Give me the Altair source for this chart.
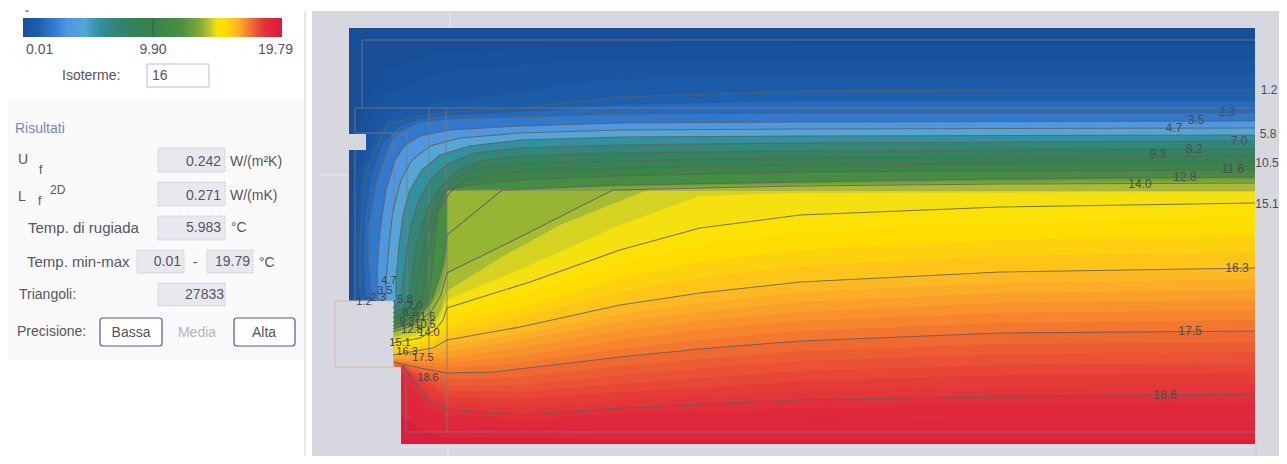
import altair as alt
import pandas as pd

# colour ramp: temperature (deg C) and colour
RAMP_T = [0.01, 1.2, 2.3, 3.4, 4.7, 5.8, 7.0, 8.4, 10.0, 12.2, 13.5, 14.2, 14.8, 15.3, 16.3, 17.0, 17.5, 18.1, 18.6, 19.79]
RAMP_C = ["#184e96", "#1e5fae", "#3278cd", "#5096e1", "#55a5d7", "#3291a0", "#328778", "#32825a", "#37824b",
          "#4b9141", "#82aa37", "#b4c332", "#f5e10f", "#ffe100", "#fdb923", "#f88c2d", "#f06932", "#e84637", "#e22d3a", "#d61c3c"]

# isotherms labelled on the chart: level -> contour points
ISO = {
 1.2: [(1255,90),(1000,90),(800,91),(620,97),(520,108),(450,112),(420,116),(403,120),(387,125),(377,147),(365,173),(362,210),(360,243),(360,283),(362,300)],
 2.3: [(1255,113),(800,113),(620,114),(520,117),(450,119),(420,122),(400,132),(390,142),(377,180),(368,227),(368,260),(370,283),(372,300)],
 3.5: [(1255,121),(800,122),(620,123),(520,126),(450,130),(420,136),(405,145),(395,160),(386,190),(380,230),(377,270),(378,300)],
 4.7: [(1255,128),(800,129),(620,130),(520,133),(460,138),(430,146),(412,160),(401,180),(393,210),(389,245),(386,280),(386,300)],
 5.8: [(1255,135),(800,136),(620,137),(520,140),(470,146),(440,155),(422,170),(410,190),(403,215),(399,245),(396,280),(396,300),(393,302)],
 7.0: [(1255,141),(800,143),(620,145),(520,148),(475,153),(448,164),(430,180),(419,200),(411,225),(407,250),(403,280),(401,300),(393,308)],
 8.2: [(1255,149),(800,151),(620,153),(520,156),(480,161),(455,172),(438,190),(427,210),(419,235),(414,260),(411,285),(409,300),(400,310),(393,313)],
 9.3: [(1255,156),(800,158),(620,161),(520,164),(480,168),(460,176),(445,190),(433,212),(425,240),(420,265),(417,285),(415,300),(405,312),(393,318)],
 10.5: [(1255,163),(800,165),(620,168),(520,172),(485,175),(465,181),(450,192),(438,212),(431,240),(426,265),(424,285),(422,300),(410,314),(393,322)],
 11.6: [(1255,170),(800,172),(620,176),(520,180),(470,185),(447,190),(438,210),(435,240),(432,270),(428,300),(413,318),(393,326)],
 12.8: [(1255,177),(1000,179),(800,182),(620,185),(502,190),(447,235),(443,265),(432,300),(415,322),(393,329)],
 14.0: [(1255,183),(1000,184),(800,186),(613,190),(510,242),(447,273),(445,280),(441,295),(431,312),(415,325),(393,332)],
 15.1: [(1255,203),(1000,207),(800,215),(700,228),(620,250),(530,282),(447,308),(443,320),(435,330),(420,338),(393,343)],
 16.3: [(1255,268),(1000,272),(800,282),(700,293),(620,305),(520,327),(447,340),(433,348),(393,355)],
 17.5: [(1255,331),(1000,333),(800,341),(700,349),(620,357),(493,372),(447,373),(420,368),(393,362)],
 18.6: [(1255,394),(1000,396),(800,400),(700,404),(620,408),(530,414),(500,413),(447,409),(432,402),(420,390),(403,365)],
}
# further colour contours read between the labelled isotherms
SHADE = {
 0.3: [(1255,45),(800,45),(560,47),(440,52),(385,70),(362,110),(353,170),(351,230),(351,300)],
 0.6: [(1255,60),(800,60),(560,62),(440,72),(385,95),(368,125),(358,170),(354,230),(354,300)],
 0.9: [(1255,75),(800,75),(600,80),(500,95),(440,102),(395,112),(375,135),(362,170),(357,230),(357,300)],
 1.7: [(1255,101),(800,101),(620,105),(520,112),(450,115),(420,119),(400,126),(382,145),(371,177),(365,220),(364,260),(366,300)],
 13.0: [(1255,178),(800,182),(620,186),(520,189),(447,190),(447,235),(443,265),(432,300),(415,322),(393,329)],
 13.4: [(1255,180),(800,184),(620,187),(520,189.5),(447,190.5),(447,254),(441,280),(428,305),(412,324),(393,331)],
 13.8: [(1255,182),(1000,183.5),(800,185.5),(640,189.5),(447,191),(447,262),(441,288),(430,308),(414,325),(393,331.5)],
 14.5: [(1255,189),(800,189),(650,189),(560,225),(500,258),(447,291),(441,310),(432,325),(415,332),(393,337)],
 14.8: [(1255,192),(800,193),(700,196),(620,225),(530,265),(447,300),(441,316),(432,328),(415,336),(393,340)],
 15.4: [(1255,218),(1000,222),(800,232),(700,245),(620,264),(530,293),(447,316),(440,326),(430,335),(393,346)],
 15.7: [(1255,235),(1000,240),(800,250),(700,262),(620,278),(530,305),(447,325),(432,340),(393,350)],
 16.0: [(1255,252),(1000,256),(800,266),(700,278),(620,292),(525,316),(447,333),(432,344),(393,352)],
 16.5: [(1255,279),(1000,283),(800,292),(700,303),(620,314),(520,334),(447,346),(425,352),(393,357)],
 16.7: [(1255,290),(1000,293),(800,302),(700,312),(620,322),(520,340),(447,352),(420,355),(393,358)],
 16.9: [(1255,300),(1000,303),(800,312),(700,321),(620,331),(520,348),(447,358),(420,359),(393,359)],
 17.1: [(1255,310),(1000,313),(800,321),(700,330),(620,340),(520,356),(447,363),(420,362),(393,360)],
 17.3: [(1255,320),(1000,323),(800,331),(700,340),(620,349),(510,364),(447,368),(420,365),(393,361)],
 17.7: [(1255,342),(1000,344),(800,351),(700,359),(620,366),(510,378),(447,379),(422,372),(395,363)],
 17.9: [(1255,352),(1000,354),(800,361),(700,368),(620,375),(520,385),(447,385),(425,376),(401,366)],
 18.1: [(1255,363),(1000,365),(800,371),(700,378),(620,384),(520,392),(447,391),(425,380),(402,366)],
 18.3: [(1255,373),(1000,375),(800,381),(700,388),(620,392),(520,399),(447,397),(425,383),(402,366)],
 18.45: [(1255,384),(1000,386),(800,391),(700,396),(620,400),(525,407),(447,403),(428,393),(403,366)],
 18.85: [(1255,403),(1000,405),(800,408),(620,414),(530,419),(447,415),(428,406),(412,388),(402,372)],
 19.1: [(1255,420),(1000,420),(800,422),(620,424),(520,427),(447,425),(425,412),(401,385)],
 19.6: [(1255,440),(1000,440),(620,440),(447,438),(420,430),(401,415)],
}
OUTLINE = [(349,300),(349,28),(1255,28),(1255,444),(401,444),(401,367),(393,367)]
CLOSURE = [(393,367),(401,367),(401,444),(1255,444)]

def closed(pts):
    ex, ey = pts[-1]
    if ex < 395:
        return pts + CLOSURE
    return pts + (CLOSURE[1:] if ey <= 367 else CLOSURE[2:])

# wall and material boundaries
WALLS = [(362,40,1255,40),(362,40,362,108),(355,108,1255,108),(355,108,355,133),(355,133,407,133),
         (407,133,407,300),(429,108,429,355),(446,108,446,190),(394,133,394,210),(355,150,355,300),
         (447,190,1255,190),(447,190,447,432),(406,365,406,432),(406,432,1255,432)]

ISO_LABELS = [("1.2",1269,90),("2.3",1227,112),("3.5",1196,120),("4.7",1174,128),("5.8",1268,134),("7.0",1239,141),
              ("8.2",1194,149),("9.3",1158,154),("10.5",1267,163),("11.6",1233,169),("12.8",1185,177),("14.0",1140,184),
              ("15.1",1267,204),("16.3",1237,268),("17.5",1190,331),("18.6",1165,395)]
CLUSTER_LABELS = [("1.2",364,302),("2.3",378,298),("3.5",385,291),("4.7",389,281),("5.8",405,300),("7.0",415,306),
              ("8.2",410,313),("9.3",407,322),("10.5",425,325),("11.6",425,317),("12.8",412,330),("14.0",429,333),
              ("15.1",400,343),("16.3",407,352),("17.5",423,358),("18.6",428,378)]

LEFT_TEXT = [("0.01",26,50),("Isoterme:",62,76),("U",18,160),("L",18,197),("W/(m²K)",230,162),("W/(mK)",230,196),
             ("Triangoli:",19,295),("Precisione:",17,332),("°C",231,228),("°C",259,263),("16",152,76)]
WIDE_TEXT = [("Temp. di rugiada",28,228),("Temp. min-max",27,262)]
MID_TEXT = [("9.90",153,50),("Bassa",131,333),("Alta",264,333),("-",195,263)]
RIGHT_TEXT = [("19.79",293,50),("0.242",221,162),("0.271",221,196),("5.983",221,228),("0.01",181,262),("19.79",250,262),("27833",224,295)]
SMALL_TEXT = [("f",39,170),("f",38,201),("2D",50,190)]
VALUE_BOXES = [(158,148,225,172),(158,182,225,206),(158,216,225,240),(137,250,184,273),(207,250,253,273),(158,283,225,306)]
BUTTONS = [(100,318,162,346),(234,318,295,346)]

X = alt.X("x:Q", scale=alt.Scale(domain=[8,1279], nice=False, zero=False), axis=None)
Y = alt.Y("y:Q", scale=alt.Scale(domain=[456,8], nice=False, zero=False), axis=None)
X2, Y2 = alt.X2("x2:Q"), alt.Y2("y2:Q")

def rects(rows, **mark):
    df = pd.DataFrame(rows, columns=["x","y","x2","y2"])
    return alt.Chart(df).mark_rect(**mark).encode(x=X, y=Y, x2=X2, y2=Y2)

def rules(rows, **mark):
    df = pd.DataFrame(rows, columns=["x","y","x2","y2"])
    return alt.Chart(df).mark_rule(**mark).encode(x=X, y=Y, x2=X2, y2=Y2)

def texts(rows, size=14, color="#555560", align="left", **mark):
    df = pd.DataFrame(rows, columns=["t","x","y"])
    return alt.Chart(df).mark_text(font="Liberation Sans", fontSize=size, color=color, align=align, baseline="middle", **mark).encode(x=X, y=Y, text="t:N")

# nested filled contours, coldest first
rows = [dict(t=0.01, i=i, x=x, y=y) for i,(x,y) in enumerate(OUTLINE)]
for t, pts in sorted({**ISO, **SHADE}.items()):
    rows += [dict(t=t, i=i, x=x, y=y) for i,(x,y) in enumerate(closed(pts))]
field = alt.Chart(pd.DataFrame(rows)).mark_line(filled=True, strokeWidth=0, interpolate="linear-closed").encode(
    x=X, y=Y, order="i:Q", detail="t:N",
    fill=alt.Fill("t:Q", scale=alt.Scale(domain=RAMP_T, range=RAMP_C, interpolate="rgb"), legend=None))

iso_rows = []
for t, pts in ISO.items():
    iso_rows += [dict(t=t, i=i, x=x, y=y) for i,(x,y) in enumerate(pts)]
iso_lines = alt.Chart(pd.DataFrame(iso_rows)).mark_line(color="#5f6060", strokeWidth=1.1, opacity=0.85).encode(
    x=X, y=Y, order="i:Q", detail="t:N")

bar = rects([(23,18,282,37)], color=alt.Gradient(gradient="linear", x1=0, x2=1, y1=0, y2=0,
    stops=[alt.GradientStop(offset=t/19.79, color=c) for t,c in zip(RAMP_T, RAMP_C)]))

chart = alt.layer(
    rects([(8,100,305,360)], color="#fafafb"),
    rects([(312,11,1279,456)], color="#d6d7df"),
    rules([(450,11,450,28),(448,444,448,456),(320,175,349,175),(401,447,1255,447)], color="#e6e7ec", strokeWidth=1.2),
    rules([(305,11,305,456)], color="#e2e2e6", strokeWidth=1.5),
    rules([(1256,444,1256,456)], color="#d8c4bc", strokeWidth=1),
    field,
    rules(WALLS, color="#7c7a80", strokeWidth=1, opacity=0.8),
    rects([(349,134,366,150)], color="#d6d7df"),
    rects([(335,301,393.5,367)], color="#d6d7df", stroke="#d9b8a8", strokeWidth=1),
    iso_lines,
    texts(ISO_LABELS, size=12, color="#4a4f50", align="center"),
    texts(CLUSTER_LABELS, size=11, color="#3f4446", align="center"),
    bar,
    rules([(153,18,153,37)], color="#3c5a48", strokeWidth=1),
    rects([(147,64,209,87)], color="#ffffff", stroke="#b4bce0", strokeWidth=1),
    rects(VALUE_BOXES, color="#e8e9ef", stroke="#c0c8e0", strokeWidth=1, strokeDash=[1,1]),
    rects(BUTTONS, color="#ffffff", stroke="#4b56a5", strokeWidth=1.2, cornerRadius=3),
    texts(LEFT_TEXT),
    texts(WIDE_TEXT, size=15),
    texts(MID_TEXT, align="center"),
    texts(RIGHT_TEXT, align="right"),
    texts(SMALL_TEXT, size=12),
    texts([("Media",197,333)], align="center", color="#b4b6c0"),
    texts([("Risultati",15,129)], color="#7a84c8"),
    texts([("ˇ",25,16)], size=12, color="#4a6a50"),
).properties(width=1271, height=448, padding=0, background="#ffffff",
             autosize=alt.AutoSizeParams(type="none")).configure_view(stroke=None)

chart.save("out.html", embed_options={"renderer": "svg", "actions": False})
